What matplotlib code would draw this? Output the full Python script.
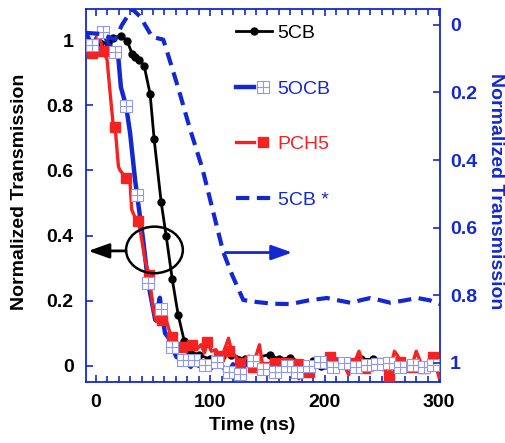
import matplotlib
matplotlib.use("Agg")
import matplotlib.pyplot as plt
import numpy as np
from matplotlib.path import Path
from matplotlib.patches import Ellipse
from matplotlib.ticker import FuncFormatter, MultipleLocator
from matplotlib.legend_handler import HandlerTuple

plt.rcParams['font.family'] = ['Liberation Sans', 'DejaVu Sans']

BLUE = '#1428d2'
RED = '#f52222'
LIGHT = '#8f98f0'

# 5CB (left axis)
cb_t = [-6.7, 3.8, 10.8, 15.1, 22.1, 27.4, 31.8, 34.4, 37.9, 42.3, 47.5, 51.0, 57.1, 61.5,
        66.8, 72.0, 77.3, 82.5, 90, 100, 110, 118, 130, 140, 152, 160, 170, 180, 190, 197,
        210, 220, 232, 242, 250]
cb_y = [0.989, 0.992, 0.992, 1.008, 1.013, 0.998, 0.958, 0.949, 0.94, 0.921, 0.835, 0.697,
        0.504, 0.40, 0.267, 0.157, 0.077, 0.043, 0.035, 0.02, 0.03, 0.035, 0.02, 0.025, 0.035,
        0.02, 0.025, 0.01, 0.015, 0.0, 0.015, 0.01, 0.02, 0.02, 0.005]

# 5OCB line (left axis)
ocb_t = [-8.5, -3.2, 1.5, 6.4, 11.5, 16.9, 19.5, 22.0, 26.5, 30.0, 34.4, 36.1, 41.4, 45.8,
         52.0, 56.0, 57.1, 60.6, 65.0, 66.8, 70.4, 76.4, 83.0, 86.0, 90, 95.6, 100, 106, 110,
         116, 120, 126, 130, 137, 140, 146, 150, 157, 160, 167, 171, 176, 180, 186, 190, 196,
         200, 207, 212, 217, 222, 227, 232, 237, 242, 246, 251, 256, 261, 266, 271, 277, 282,
         287, 291, 295, 300]
ocb_y = [1.02, 0.986, 1.01, 1.025, 0.985, 0.964, 0.955, 0.855, 0.798, 0.715, 0.57, 0.525,
         0.387, 0.255, 0.141, 0.209, 0.175, 0.10, 0.08, 0.058, 0.028, 0.018, -0.003, 0.018,
         0.0, 0.003, -0.01, 0.012, 0.0, -0.02, 0.005, -0.025, 0.0, 0.015, 0.0, -0.01, 0.005,
         -0.02, 0.0, 0.0, -0.01, -0.02, 0.005, 0.0, 0.01, 0.012, -0.005, -0.003, 0.005, 0.01,
         0.0, -0.003, -0.015, 0.003, 0.0, 0.005, -0.01, 0.01, -0.01, -0.003, 0.0, 0.003, -0.01,
         -0.003, 0.005, 0.003, -0.02]
# 5OCB markers
ocb_mt = [-3.2, 6.4, 16.9, 26.5, 36.1, 45.8, 57.1, 66.8, 76.4, 86.0, 95.6, 106, 116, 126,
          137, 146, 157, 167, 176, 186, 196, 207, 217, 227, 237, 246, 256, 266, 277, 287, 295]
ocb_my = [0.986, 1.025, 0.964, 0.798, 0.525, 0.255, 0.175, 0.058, 0.018, 0.018, 0.003, 0.012,
          -0.02, -0.025, 0.015, -0.01, -0.02, 0.0, -0.02, 0.0, 0.012, -0.003, 0.01, -0.003,
          0.003, 0.005, 0.01, -0.003, 0.003, -0.003, 0.003]

# PCH5 line (left axis)
pch_t = [-6.7, -3.2, 1.5, 3.0, 6.4, 9.9, 12.5, 15.1, 16.9, 19.8, 21.3, 26.5, 30.0, 31.4,
         34.4, 37.3, 40.2, 43.1, 46.6, 50.0, 53.0, 57.6, 62.0, 65.0, 67.0, 70.0, 75.0, 84,
         88, 92, 95, 97.5, 101, 105, 108, 112, 116, 119, 122, 126, 130, 134, 137, 140, 143,
         146, 150, 154, 157, 162, 167, 172, 176, 177.5, 181, 186, 191, 196, 201, 205, 210,
         216, 221, 226, 230, 235, 240, 246, 251, 256, 261, 264, 266, 271, 276, 280, 284, 286,
         291, 295, 300]
pch_y = [0.963, 0.961, 1.01, 1.015, 0.967, 0.94, 0.84, 0.745, 0.734, 0.612, 0.60, 0.577,
         0.56, 0.48, 0.455, 0.446, 0.387, 0.325, 0.279, 0.18, 0.136, 0.141, 0.136, 0.10,
         0.088, 0.075, 0.059, 0.065, 0.05, 0.065, 0.04, 0.074, 0.045, 0.05, 0.03, 0.045,
         0.085, 0.04, 0.03, 0.01, 0.02, 0.03, -0.003, 0.03, 0.065, -0.003, 0.0, 0.015, 0.01,
         0.02, 0.01, 0.0, 0.006, -0.04, 0.01, -0.018, 0.005, 0.012, 0.02, 0.028, 0.02, 0.01,
         -0.027, 0.01, 0.045, -0.006, 0.01, 0.01, 0.0, -0.03, 0.045, 0.03, 0.012, 0.0, -0.003,
         0.045, 0.01, -0.006, 0.01, 0.028, -0.035]
# PCH5 markers
pch_mt = [-3.2, 6.4, 16.9, 26.5, 37.3, 46.6, 57.6, 67.0, 75.0, 84, 97.5, 108, 116, 126, 137,
          146, 157, 167, 176, 186, 196, 205, 216, 226, 235, 246, 256, 266, 276, 286, 295]
pch_my = [0.961, 0.967, 0.734, 0.577, 0.446, 0.279, 0.141, 0.088, 0.059, 0.065, 0.074, 0.03,
          0.045, 0.01, -0.003, -0.003, 0.01, 0.01, 0.006, -0.018, 0.012, 0.028, 0.01, 0.01,
          -0.006, 0.01, -0.03, 0.012, -0.003, -0.006, 0.028]

# 5CB * (right axis, inverted)
cbs_t = [-8.5, 3.8, 12.5, 16.9, 23.0, 31.8, 38.8, 49.3, 59.0, 63.2, 72.0, 82.5, 93.0, 102.6,
         111.4, 119.2, 128.9, 141, 155, 170, 186, 202, 212, 222.5, 231, 240, 249, 257.5, 270,
         281, 292, 301]
cbs_y = [0.024, 0.027, 0.038, 0.044, 0.0, -0.047, -0.024, 0.036, 0.044, 0.089, 0.186, 0.31,
         0.423, 0.553, 0.672, 0.74, 0.814, 0.82, 0.825, 0.826, 0.815, 0.808, 0.815, 0.822,
         0.815, 0.808, 0.815, 0.822, 0.815, 0.808, 0.815, 0.826]

left_ticks = [0, 0.2, 0.4, 0.6, 0.8, 1.0]
right_ticks = [0, 0.2, 0.4, 0.6, 0.8, 1.0]
x_ticks = [0, 100, 200, 300]

# square with a cross inside
mk_path = Path([(-1, -1), (1, -1), (1, 1), (-1, 1), (-1, -1), (0, -1), (0, 1), (-1, 0), (1, 0)],
               [Path.MOVETO, Path.LINETO, Path.LINETO, Path.LINETO, Path.CLOSEPOLY,
                Path.MOVETO, Path.LINETO, Path.MOVETO, Path.LINETO])

fig = plt.figure(figsize=(5.06, 4.43), dpi=100)
ax = fig.add_axes([0.170, 0.138, 0.700, 0.842])

h_cb, = ax.plot(cb_t, cb_y, color='black', lw=2.0, marker='o', ms=5, zorder=2)
h_ocb, = ax.plot(ocb_t, ocb_y, color=BLUE, lw=3.2, zorder=3)
h_pch, = ax.plot(pch_t, pch_y, color=RED, lw=2.4, zorder=4)
h_pchm, = ax.plot(pch_mt, pch_my, ls='none', marker='s', ms=7, color=RED, zorder=4)
h_ocbm, = ax.plot(ocb_mt, ocb_my, ls='none', marker=mk_path, ms=8.5, mfc='white',
                  mec=LIGHT, mew=0.8, zorder=5)

ax.set_xlim(-8.5, 301)
ax.set_ylim(-0.049, 1.096)
ax.set_xticks(x_ticks)
ax.xaxis.set_minor_locator(MultipleLocator(10))
ax.set_yticks(left_ticks)
fmt = FuncFormatter(lambda v, p: '%g' % v)
ax.yaxis.set_major_formatter(fmt)
for s in ax.spines.values():
    s.set_color(BLUE)
    s.set_linewidth(1.3)
ax.tick_params(axis='x', which='both', direction='in', top=True, color=BLUE,
               labelsize=14, pad=9)
ax.tick_params(axis='x', which='major', length=5, width=1.2)
ax.tick_params(axis='x', which='minor', length=4.5, width=1.2)
ax.tick_params(axis='y', direction='in', color=BLUE, length=5, width=1.2, labelsize=14, pad=9)
for lab in ax.get_xticklabels() + ax.get_yticklabels():
    lab.set_fontweight('bold')

ax.set_xlabel('Time (ns)', fontsize=14, fontweight='bold')
ax.set_ylabel('Normalized Transmission', fontsize=14, fontweight='bold')
ax.xaxis.set_label_coords(0.47, -0.095)
ax.yaxis.set_label_coords(-0.165, 0.51)

ax2 = ax.twinx()
h_cbs, = ax2.plot(cbs_t, cbs_y, color=BLUE, lw=3.0, ls=(0, (3.2, 1.8)), zorder=3)
ax2.set_ylim(1.056, -0.047)
ax2.set_yticks(right_ticks)
ax2.yaxis.set_major_formatter(fmt)
for s in ax2.spines.values():
    s.set_visible(False)
ax2.tick_params(axis='y', direction='in', color=BLUE, labelcolor=BLUE, length=5, width=1.2,
                labelsize=14, pad=7)
for lab in ax2.get_yticklabels():
    lab.set_fontweight('bold')
ax2.set_ylabel('Normalized Transmission', fontsize=14, fontweight='bold', color=BLUE,
               rotation=270, va='center', ha='center')
ax2.yaxis.set_label_coords(1.155, 0.51)

# ellipse and arrows
ell = Ellipse((51.3, 0.356), 49.6, 0.143, fill=False, ec='black', lw=1.8, zorder=6)
ax.add_patch(ell)
ax.annotate('', xy=(-6.5, 0.353), xytext=(26.5, 0.353),
            arrowprops=dict(arrowstyle='-|>,head_length=0.9,head_width=0.32', color='black',
                            lw=2, shrinkA=0, shrinkB=0, mutation_scale=14), zorder=6)
ax.annotate('', xy=(171.7, 0.348), xytext=(113.3, 0.348),
            arrowprops=dict(arrowstyle='-|>,head_length=0.9,head_width=0.32', color=BLUE,
                            lw=2, shrinkA=0, shrinkB=0, mutation_scale=14), zorder=6)

leg = ax2.legend([h_cb, (h_ocb, h_ocbm), (h_pch, h_pchm), h_cbs],
                 ['5CB', '5OCB', 'PCH5', '5CB *'],
                 handler_map={tuple: HandlerTuple(ndivide=None, pad=0)},
                 loc='upper left', bbox_to_anchor=(0.424, 0.958), frameon=False,
                 fontsize=14, handlelength=1.85, handletextpad=0.28, labelspacing=1.95,
                 borderpad=0, borderaxespad=0)
for txt, c in zip(leg.get_texts(), ['black', BLUE, RED, BLUE]):
    txt.set_color(c)

fig.savefig('out.png', dpi=100)
